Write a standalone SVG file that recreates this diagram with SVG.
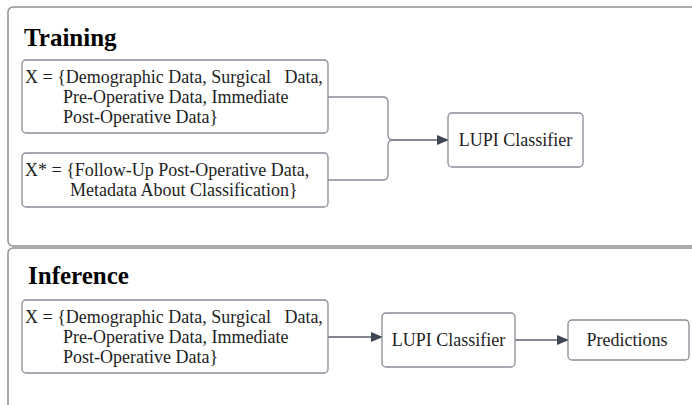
<svg xmlns="http://www.w3.org/2000/svg" width="692" height="405" viewBox="0 0 692 405">
<style>
.panel{fill:#fff;stroke:#8e9094;stroke-width:1.5}
.box{fill:#fff;stroke:#878c96;stroke-width:1.3}
.t{font-size:18px;fill:#1e1e1e;white-space:pre}
.h{font-size:25px;font-weight:bold;fill:#000}
.c{text-anchor:middle}
.edge{fill:none;stroke:#5a606b;stroke-width:1.3}
.edgeg{fill:none;stroke:#878c96;stroke-width:1.3}
</style>
<defs>
<marker id="ah" markerWidth="12" markerHeight="10" refX="11" refY="5" orient="auto" markerUnits="userSpaceOnUse">
<path d="M0,0 L12,5 L0,10 z" fill="#3f4655"/>
</marker>
</defs>
<rect width="692" height="405" fill="#fff"/>
<g font-family="Liberation Serif, Times New Roman, serif">
<g id="training-panel">
<rect class="panel" x="8" y="7" width="700" height="239" rx="5"/>
<text class="h" x="24" y="46">Training</text>
</g>
<g id="inference-panel">
<rect class="panel" x="8" y="248" width="700" height="180" rx="5"/>
<text class="h" x="28" y="284">Inference</text>
</g>
<g id="connectors">
<path class="edgeg" d="M328,97 H383 Q388,97 388,102 V135 Q388,140 393,140"/>
<path class="edgeg" d="M328,180 H383 Q388,180 388,175 V145 Q388,140 393,140"/>
<path class="edge" d="M393,140 H448" marker-end="url(#ah)"/>
<path class="edge" d="M328,337 H382" marker-end="url(#ah)"/>
<path class="edge" d="M515,340 H568" marker-end="url(#ah)"/>
</g>
<g id="train-x">
<rect class="box" x="22" y="60" width="306" height="73" rx="4"/>
<text class="t" x="25" y="83">X = {Demographic Data, Surgical   Data,</text>
<text class="t" x="63" y="103">Pre-Operative Data, Immediate</text>
<text class="t" x="63" y="123">Post-Operative Data}</text>
</g>
<g id="train-xstar">
<rect class="box" x="22" y="153" width="306" height="54" rx="4"/>
<text class="t" x="25" y="176">X* = {Follow-Up Post-Operative Data,</text>
<text class="t" x="70" y="196">Metadata About Classification}</text>
</g>
<g id="train-lupi">
<rect class="box" x="448" y="113" width="135" height="54" rx="4"/>
<text class="t c" x="515.5" y="146">LUPI Classifier</text>
</g>
<g id="infer-x">
<rect class="box" x="22" y="300" width="306" height="73" rx="4"/>
<text class="t" x="25" y="323">X = {Demographic Data, Surgical   Data,</text>
<text class="t" x="63" y="343">Pre-Operative Data, Immediate</text>
<text class="t" x="63" y="363">Post-Operative Data}</text>
</g>
<g id="infer-lupi">
<rect class="box" x="382" y="313" width="133" height="54" rx="4"/>
<text class="t c" x="448.5" y="346">LUPI Classifier</text>
</g>
<g id="predictions">
<rect class="box" x="568" y="320" width="121" height="40" rx="4"/>
<text class="t c" x="627" y="346">Predictions</text>
</g>
</g>
</svg>
